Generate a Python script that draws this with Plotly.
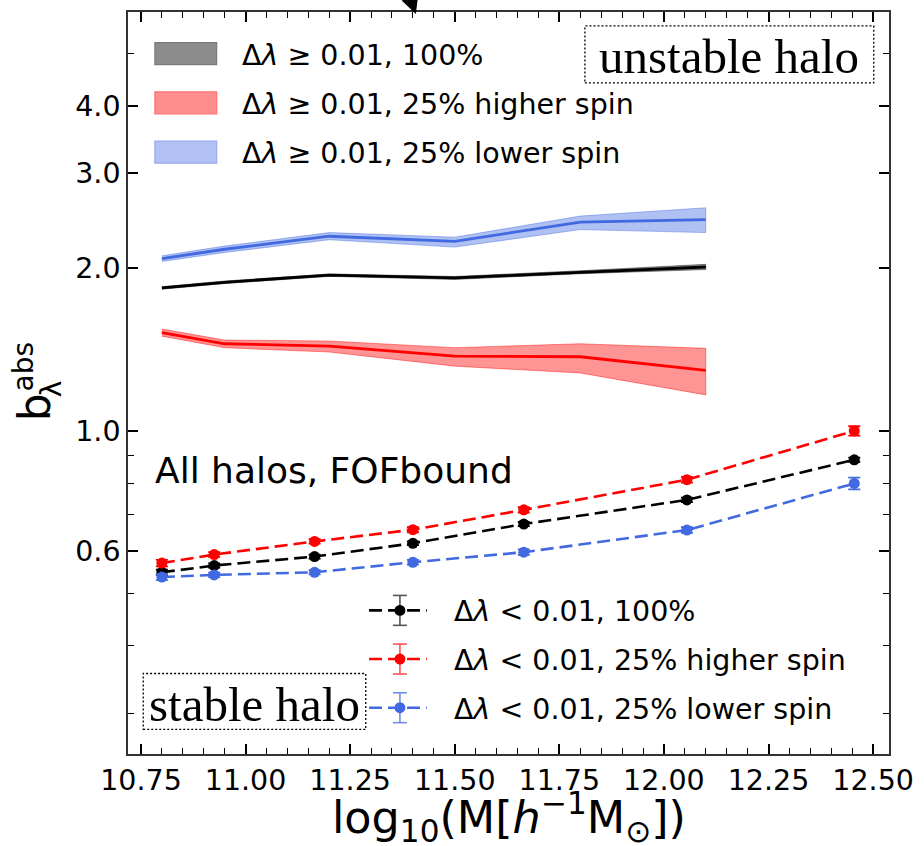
import plotly.graph_objects as go

# ---- data -------------------------------------------------------------
# unstable haloes (Δλ ≥ 0.01): bias with 1σ band
x_unstable = [10.8, 10.95, 11.2, 11.5, 11.8, 12.1]
b_all_unst = [1.84, 1.885, 1.943, 1.92, 1.967, 2.012]
b_all_unst_hi = [1.85, 1.895, 1.953, 1.932, 1.980, 2.035]
b_all_unst_lo = [1.83, 1.875, 1.933, 1.908, 1.955, 1.990]
b_high_unst = [1.52, 1.45, 1.436, 1.376, 1.372, 1.295]
b_high_unst_hi = [1.544, 1.473, 1.467, 1.426, 1.45, 1.422]
b_high_unst_lo = [1.498, 1.426, 1.40, 1.318, 1.28, 1.166]
b_low_unst = [2.085, 2.17, 2.294, 2.245, 2.437, 2.462]
b_low_unst_hi = [2.11, 2.20, 2.33, 2.285, 2.50, 2.59]
b_low_unst_lo = [2.06, 2.14, 2.26, 2.19, 2.36, 2.33]

# stable haloes (Δλ < 0.01): bias with error bars
x_stable = [10.8, 10.925, 11.165, 11.4, 11.665, 12.055, 12.455]
b_all_st = [0.547, 0.563, 0.585, 0.619, 0.672, 0.745, 0.884]
e_all_st = [0.006, 0.005, 0.005, 0.005, 0.006, 0.007, 0.008]
b_high_st = [0.569, 0.590, 0.624, 0.656, 0.714, 0.812, 1.0]
e_high_st = [0.008, 0.006, 0.006, 0.007, 0.008, 0.010, 0.02]
b_low_st = [0.536, 0.541, 0.547, 0.571, 0.596, 0.655, 0.799]
e_low_st = [0.007, 0.005, 0.005, 0.006, 0.007, 0.008, 0.02]

unstable_labels = ["Δ<i>λ</i> ≥ 0.01, 100%",
                   "Δ<i>λ</i> ≥ 0.01, 25% higher spin",
                   "Δ<i>λ</i> ≥ 0.01, 25% lower spin"]
stable_labels = ["Δ<i>λ</i> < 0.01, 100%",
                 "Δ<i>λ</i> < 0.01, 25% higher spin",
                 "Δ<i>λ</i> < 0.01, 25% lower spin"]

x_ticks = [10.75, 11.0, 11.25, 11.5, 11.75, 12.0, 12.25, 12.5]
y_ticks = [0.6, 1.0, 2.0, 3.0, 4.0]
y_minor = [0.3, 0.4, 0.5, 0.7, 0.8, 0.9, 5.0]

# ---- styling -------------------------------------------------------------
BLACK = "#000000"
RED = "#ff0000"
BLUE = "#4169e1"
BAND = {BLACK: "rgba(0,0,0,0.42)", RED: "rgba(255,0,0,0.42)",
        BLUE: "rgba(65,105,225,0.42)"}
FONT = "DejaVu Sans"
SERIF = "Liberation Serif"

W, H = 924, 846
L, R, T, B = 128, 892, 10, 754


def px(x):
    return (x - L) / (R - L)


def py(y):
    return (B - y) / (B - T)


fig = go.Figure()

# unstable: shaded bands + solid centre lines
for xs, mid, hi, lo, col in [
    (x_unstable, b_all_unst, b_all_unst_hi, b_all_unst_lo, BLACK),
    (x_unstable, b_high_unst, b_high_unst_hi, b_high_unst_lo, RED),
    (x_unstable, b_low_unst, b_low_unst_hi, b_low_unst_lo, BLUE),
]:
    fig.add_trace(go.Scatter(
        x=xs + xs[::-1], y=hi + lo[::-1], fill="toself", fillcolor=BAND[col],
        line=dict(color=BAND[col], width=1), mode="lines",
        hoverinfo="skip", showlegend=False))
    fig.add_trace(go.Scatter(
        x=xs, y=mid, mode="lines", line=dict(color=col, width=2.8),
        showlegend=False))

# stable: dashed lines with markers and error bars
for ys, es, col in [(b_all_st, e_all_st, BLACK),
                    (b_high_st, e_high_st, RED),
                    (b_low_st, e_low_st, BLUE)]:
    fig.add_trace(go.Scatter(
        x=x_stable, y=ys, mode="lines+markers",
        line=dict(color=col, width=2.6, dash="13px,6px"),
        marker=dict(color=col, size=11),
        error_y=dict(type="data", array=es, color=col, thickness=1.8, width=6),
        showlegend=False))

shapes = []
annotations = []
LEG_SIZE = 28.5

# legend for the unstable bands (upper left)
patch_cols = [("#8c8c8c", "#7a7a7a"), ("#ff8f8f", "#ff7070"), ("#b1c1f3", "#95abef")]
for i, (lab, (fc, ec)) in enumerate(zip(unstable_labels, patch_cols)):
    yc = 51.7 + 49.4 * i
    shapes.append(dict(type="rect", xref="paper", yref="paper",
                       x0=px(155), x1=px(217), y0=py(yc + 11), y1=py(yc - 11),
                       fillcolor=fc, line=dict(color=ec, width=1.2)))
    annotations.append(dict(text=lab, xref="paper", yref="paper",
                            x=px(240), y=py(yc + 1.5), xanchor="left",
                            yanchor="middle", showarrow=False,
                            font=dict(family=FONT, size=LEG_SIZE, color="black")))

# legend for the stable curves (lower right)
err_cols = ["#555555", "#ff5050", "#6f8ee8"]
for i, (lab, col, ecol) in enumerate(zip(stable_labels, [BLACK, RED, BLUE], err_cols)):
    yc = 610 + 48.8 * i
    shapes.append(dict(type="line", xref="paper", yref="paper",
                       x0=px(370), x1=px(428), y0=py(yc), y1=py(yc),
                       line=dict(color=col, width=2.6, dash="13px,6px")))
    shapes.append(dict(type="line", xref="paper", yref="paper",
                       x0=px(401), x1=px(401), y0=py(yc - 15), y1=py(yc + 15),
                       line=dict(color=ecol, width=1.6)))
    for dy in (-15, 15):
        shapes.append(dict(type="line", xref="paper", yref="paper",
                           x0=px(394), x1=px(408), y0=py(yc + dy), y1=py(yc + dy),
                           line=dict(color=ecol, width=1.6)))
    shapes.append(dict(type="circle", xref="paper", yref="paper",
                       x0=px(395.5), x1=px(406.5), y0=py(yc + 5.5), y1=py(yc - 5.5),
                       fillcolor=col, line=dict(color=col, width=0)))
    annotations.append(dict(text=lab, xref="paper", yref="paper",
                            x=px(453), y=py(yc + 1.5), xanchor="left",
                            yanchor="middle", showarrow=False,
                            font=dict(family=FONT, size=LEG_SIZE, color="black")))

# boxed region labels
shapes.append(dict(type="rect", xref="paper", yref="paper",
                   x0=px(586.7), x1=px(876.7), y0=py(81), y1=py(24),
                   fillcolor="white", line=dict(color="black", width=1.3, dash="2px,2px")))
annotations.append(dict(text="unstable halo", xref="paper", yref="paper",
                        x=px(731.7), y=py(55), xanchor="center", yanchor="middle",
                        showarrow=False,
                        font=dict(family=SERIF, size=49, color="black")))
shapes.append(dict(type="rect", xref="paper", yref="paper",
                   x0=px(143.3), x1=px(366.7), y0=py(729.3), y1=py(673.3),
                   fillcolor="white", line=dict(color="black", width=1.3, dash="2px,2px")))
annotations.append(dict(text="stable halo", xref="paper", yref="paper",
                        x=px(254.5), y=py(704), xanchor="center", yanchor="middle",
                        showarrow=False,
                        font=dict(family=SERIF, size=49, color="black")))

# sample description
annotations.append(dict(text="All halos, FOFbound", xref="paper", yref="paper",
                        x=px(153), y=py(470), xanchor="left", yanchor="middle",
                        showarrow=False,
                        font=dict(family=FONT, size=36, color="black")))

# axis titles
annotations.append(dict(
    text="log<sub>10</sub>(M[<i>h</i><sup>−1</sup>M<sub>⊙</sub>])",
    xref="paper", yref="paper", x=px(511), y=py(817), xanchor="center",
    yanchor="middle", showarrow=False,
    font=dict(family=FONT, size=44.5, color="black")))
annotations.append(dict(text="b", xref="paper", yref="paper", x=px(35), y=py(406),
                        xanchor="center", yanchor="middle", textangle=-90,
                        showarrow=False, font=dict(family=FONT, size=44, color="black")))
annotations.append(dict(text="abs", xref="paper", yref="paper", x=px(23), y=py(365),
                        xanchor="center", yanchor="middle", textangle=-90,
                        showarrow=False, font=dict(family=FONT, size=28, color="black")))
annotations.append(dict(text="λ", xref="paper", yref="paper", x=px(52), y=py(388),
                        xanchor="center", yanchor="middle", textangle=-90,
                        showarrow=False, font=dict(family=FONT, size=28, color="black")))

# arrow coming in from above the frame
annotations.append(dict(text="", xref="paper", yref="paper", x=px(417), y=py(12),
                        showarrow=True, arrowhead=2, arrowsize=1.6, arrowwidth=2.2,
                        arrowcolor="black", ax=-5, ay=-45))

tick_font = dict(family=FONT, size=28.5, color="black")
fig.update_layout(
    width=W, height=H, margin=dict(l=L, r=W - R, t=T, b=H - B),
    paper_bgcolor="white", plot_bgcolor="white",
    shapes=shapes, annotations=annotations, showlegend=False,
    xaxis=dict(range=[10.719, 12.538], tickmode="array", tickvals=x_ticks,
               ticktext=[f"{v:.2f}" for v in x_ticks], tickfont=tick_font,
               ticks="inside", ticklen=10.5, tickwidth=1.8, tickcolor="black",
               showline=True, linecolor="#333333", linewidth=1.5, mirror="ticks",
               showgrid=False, zeroline=False,
               minor=dict(dtick=0.05, tick0=10.75, ticks="inside", ticklen=6,
                          tickwidth=1.3, tickcolor="black", showgrid=False)),
    yaxis=dict(type="log", range=[-0.5986, 0.776], tickmode="array",
               tickvals=y_ticks, ticktext=[f"{v:.1f}" for v in y_ticks],
               tickfont=tick_font, ticks="inside", ticklen=10.5, tickwidth=1.8,
               tickcolor="black", showline=True, linecolor="#333333", linewidth=1.5,
               mirror="ticks", showgrid=False, zeroline=False,
               minor=dict(tickmode="array", tickvals=y_minor, ticks="inside",
                          ticklen=6, tickwidth=1.3, tickcolor="black", showgrid=False)),
)

fig.write_html("out.html")
